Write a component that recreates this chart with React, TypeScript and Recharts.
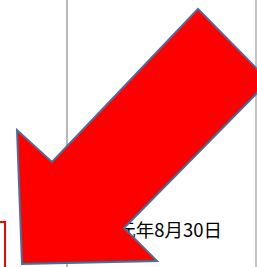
import React from 'react';
import { ComposedChart, XAxis, YAxis, Scatter, ReferenceArea } from 'recharts';

// Arrow outline vertices (picture coordinates, y grows downward)
const arrowX = [198, 269, 124, 157, 22, 17, 52];
const arrowY = [9, 81, 228, 261, 264, 130, 162];
const arrowData = arrowX.map((x, i) => ({ x, y: arrowY[i] }));

// Date label
const labelText = ['令和元年8月30日'];
const labelX = [222];
const labelY = [236.5];
const labelData = labelText.map((t, i) => ({ x: labelX[i], y: labelY[i], t }));

// Vertical rules (x position, from top to bottom)
const rule1 = [{ x: 67, y: -5 }, { x: 67, y: 272 }];
const rule2 = [{ x: 256, y: -5 }, { x: 256, y: 272 }];

// Red box in the lower-left corner
const boxX = [-10, 5];
const boxY = [222, 290];

const W = 257;
const H = 267;

const TextShape = (props: any) => {
  const { cx, cy, payload } = props;
  return (
    <text x={cx} y={cy} textAnchor="end" fontSize={18.5} fill="#000"
      fontFamily="'Noto Sans CJK JP', 'Noto Sans', sans-serif">
      {payload.t}
    </text>
  );
};

const Empty = () => <g />;

const ArrowPoly = (p: any) => {
  const pts = (p.points || []).map((q: any) => `${q.x},${q.y}`).join(' ');
  return <polygon points={pts} style={{ fill: '#ff0000', fillOpacity: 1, opacity: 1 }} stroke="#41719c" strokeWidth={2} strokeLinejoin="miter" />;
};

export default function App() {
  return (
    <div style={{ position: 'fixed', left: 0, top: 0, width: W, height: H, background: '#fff' }}>
      <ComposedChart width={W} height={H} margin={{ top: 0, right: 0, bottom: 0, left: 0 }}>
        <XAxis type="number" dataKey="x" domain={[0, W]} hide allowDataOverflow />
        <YAxis type="number" dataKey="y" domain={[0, H]} reversed hide allowDataOverflow />
        <ReferenceArea x1={boxX[0]} x2={boxX[1]} y1={boxY[0]} y2={boxY[1]} fill="none"
          fillOpacity={0} stroke="#ff0000" strokeWidth={2} ifOverflow="visible" />
        <Scatter data={rule1} shape={Empty} isAnimationActive={false}
          line={{ stroke: '#a0a0a0', strokeWidth: 1.5 }} lineType="joint" />
        <Scatter data={rule2} shape={Empty} isAnimationActive={false}
          line={{ stroke: '#b0b0b0', strokeWidth: 1.5 }} lineType="joint" />
        <Scatter data={labelData} shape={TextShape} isAnimationActive={false} />
        <Scatter data={arrowData} shape={Empty} isAnimationActive={false}
          line={ArrowPoly} lineType="joint" />
      </ComposedChart>
    </div>
  );
}
